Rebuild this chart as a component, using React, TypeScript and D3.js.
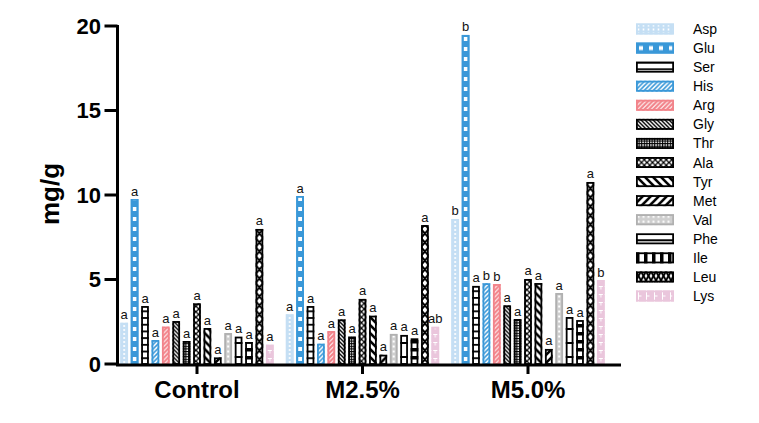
import React from "react";
import * as d3 from "d3";

const groups = ["Control", "M2.5%", "M5.0%"];
const acids = ["Asp", "Glu", "Ser", "His", "Arg", "Gly", "Thr", "Ala", "Tyr", "Met", "Val", "Phe", "Ile", "Leu", "Lys"];
const controlValues = [2.44, 9.76, 3.43, 1.42, 2.21, 2.54, 1.36, 3.59, 2.13, 0.39, 1.83, 1.62, 1.3, 7.99, 1.14];
const m25Values = [2.94, 9.94, 3.43, 1.2, 1.95, 2.64, 1.62, 3.85, 2.86, 0.55, 1.78, 1.72, 1.52, 8.22, 2.21];
const m50Values = [8.58, 19.47, 4.62, 4.78, 4.73, 3.47, 2.66, 5.03, 4.79, 0.89, 4.2, 2.78, 2.6, 10.77, 4.97];
const controlLetters = ["a", "a", "a", "a", "a", "a", "a", "a", "a", "a", "a", "a", "a", "a", "a"];
const m25Letters = ["a", "a", "a", "a", "a", "a", "a", "a", "a", "a", "a", "a", "a", "a", "ab"];
const m50Letters = ["b", "b", "a", "b", "b", "a", "a", "a", "a", "a", "a", "a", "a", "a", "b"];
const yTicks = [0, 5, 10, 15, 20];

const seriesValues = [controlValues, m25Values, m50Values];
const seriesLetters = [controlLetters, m25Letters, m50Letters];

const BLUE = "#3a98d8";
const LBLUE = "#c5dff4";
const SALMON = "#f2838a";
const PINK = "#eac6dc";
const GRAY = "#b0b0b0";
const FONT = "'Liberation Sans', Arial, sans-serif";

type Spec = {
  bg: string;
  stroke: string;
  tw: (w: number) => number;
  th: number;
  rot: boolean;
  draw: (w: number, h: number) => React.ReactNode;
};

const diag = (s: number, sw: number, color: string, dir: 1 | -1) =>
  dir === 1 ? (
    <path d={`M${-s / 2},${s / 2} L${s / 2},${-s / 2} M0,${s} L${s},0 M${s / 2},${s * 1.5} L${s * 1.5},${s / 2}`} stroke={color} strokeWidth={sw} fill="none" />
  ) : (
    <path d={`M${-s / 2},${s / 2} L${s / 2},${s * 1.5} M0,0 L${s},${s} M${s / 2},${-s / 2} L${s * 1.5},${s / 2}`} stroke={color} strokeWidth={sw} fill="none" />
  );

const specs: Record<string, Spec> = {
  Asp: { bg: LBLUE, stroke: LBLUE, tw: (w) => w, th: 4, rot: false, draw: (w) => <rect x={w / 2 - 0.8} y={1} width={1.6} height={2} fill="#fff" /> },
  Glu: { bg: BLUE, stroke: BLUE, tw: (w) => w, th: 10, rot: true, draw: (w) => <rect x={w / 2 - 2} y={3} width={4} height={4} fill="#fff" /> },
  Ser: { bg: "#fff", stroke: "#000", tw: (w) => w, th: 6.7, rot: false, draw: (w) => <rect x={0} y={0} width={w} height={1.8} fill="#000" /> },
  His: { bg: "#fff", stroke: BLUE, tw: () => 4.5, th: 4.5, rot: false, draw: () => diag(4.5, 1.6, BLUE, 1) },
  Arg: { bg: "#fff", stroke: SALMON, tw: () => 4.5, th: 4.5, rot: false, draw: () => diag(4.5, 2.2, SALMON, 1) },
  Gly: { bg: "#fff", stroke: "#000", tw: () => 4, th: 4, rot: false, draw: () => diag(4, 1.4, "#000", -1) },
  Thr: {
    bg: "#fff", stroke: "#000", tw: () => 2.6, th: 2.6, rot: false,
    draw: () => (<><rect x={0} y={0} width={2.6} height={1.1} fill="#000" /><rect x={0} y={0} width={1.1} height={2.6} fill="#000" /></>),
  },
  Ala: {
    bg: "#fff", stroke: "#000", tw: () => 5.5, th: 5.5, rot: false,
    draw: () => (<>{diag(5.5, 1.2, "#000", 1)}{diag(5.5, 1.2, "#000", -1)}</>),
  },
  Tyr: { bg: "#fff", stroke: "#000", tw: () => 8, th: 8, rot: false, draw: () => diag(8, 2.6, "#000", -1) },
  Met: { bg: "#fff", stroke: "#000", tw: () => 8, th: 8, rot: false, draw: () => diag(8, 2.6, "#000", 1) },
  Val: { bg: "#cfcfcf", stroke: GRAY, tw: (w) => w, th: 5, rot: false, draw: (w) => <rect x={w / 2 - 1} y={1.5} width={2} height={2} fill="#fff" /> },
  Phe: { bg: "#fff", stroke: "#000", tw: (w) => w, th: 14, rot: false, draw: (w) => <rect x={0} y={6} width={w} height={2} fill="#000" /> },
  Ile: { bg: "#fff", stroke: "#000", tw: (w) => w, th: 8, rot: true, draw: (w) => <rect x={0} y={0} width={w} height={3.5} fill="#000" /> },
  Leu: {
    bg: "#fff", stroke: "#000", tw: (w) => w, th: 9, rot: false,
    draw: (w) => <path d={`M0,0 L${w},9 M${w},0 L0,9`} stroke="#000" strokeWidth={1.9} fill="none" />,
  },
  Lys: {
    bg: PINK, stroke: PINK, tw: (w) => w, th: 8, rot: true,
    draw: (w) => (<><rect x={0} y={2} width={w} height={1} fill="#fff" /><rect x={w / 2 - 0.5} y={2} width={1} height={3.5} fill="#fff" /></>),
  },
};

export default function App() {
  const W = 759;
  const H = 423;
  const x0 = d3.scaleBand<string>().domain(groups).range([114.25, 610.75]).padding(0);
  const x1 = d3.scaleBand<string>().domain(acids).range([-78, 78]).paddingInner(0.26).paddingOuter(0.13);
  const y = d3.scaleLinear().domain([0, 20]).range([364, 26]);
  const bw = x1.bandwidth();
  const axisX = 117.5;
  const axisRight = 621;
  const sw = 1.8;

  const bars: React.ReactNode[] = [];
  const defs: React.ReactNode[] = [];
  const labels: React.ReactNode[] = [];

  groups.forEach((g, gi) => {
    const cx = (x0(g) as number) + x0.bandwidth() / 2;
    acids.forEach((a, ai) => {
      const v = seriesValues[gi][ai];
      const spec = specs[a];
      const bx = cx + (x1(a) as number);
      const by = y(v);
      const base = y(0);
      const id = `p-${gi}-${ai}`;
      const tw = spec.tw(bw);
      defs.push(
        <pattern key={id} id={id} patternUnits="userSpaceOnUse" x={bx} y={base} width={tw} height={spec.th}>
          <rect x={0} y={0} width={tw} height={spec.th} fill={spec.bg} />
          {spec.draw(bw, spec.th)}
        </pattern>
      );
      bars.push(
        <g key={id}>
          <rect x={bx} y={by} width={bw} height={base - by} fill={`url(#${id})`} />
          <rect x={bx + sw / 2} y={by + sw / 2} width={bw - sw} height={Math.max(0, base - by - sw / 2)} fill="none" stroke={spec.stroke} strokeWidth={sw} />
        </g>
      );
      labels.push(
        <text key={`t-${id}`} x={bx + bw / 2} y={by - 3.5} textAnchor="middle" fontSize={13} fontFamily={FONT} fill="#111">
          {seriesLetters[gi][ai]}
        </text>
      );
    });
  });

  const legendY = d3.scaleLinear().domain([0, acids.length - 1]).range([29, 296]);
  const swX = 636;
  const swW = 38;
  const swH = 11;
  const legend = acids.map((a, i) => {
    const spec = specs[a];
    const cy = legendY(i);
    const sy = cy - swH / 2;
    const id = `lg-${i}`;
    const lw = spec.rot ? swH : 5;
    const tw = spec.tw(lw);
    const transform = spec.rot ? `translate(${swX},${sy + swH}) rotate(-90)` : `translate(${swX},${sy})`;
    return (
      <g key={id}>
        <defs>
          <pattern id={id} patternUnits="userSpaceOnUse" x={0} y={0} width={tw} height={spec.th} patternTransform={transform}>
            <rect x={0} y={0} width={tw} height={spec.th} fill={spec.bg} />
            {spec.draw(lw, spec.th)}
          </pattern>
        </defs>
        <rect x={swX} y={sy} width={swW} height={swH} fill={`url(#${id})`} />
        <rect x={swX + sw / 2} y={sy + sw / 2} width={swW - sw} height={swH - sw} fill="none" stroke={spec.stroke} strokeWidth={sw} />
        <text x={693} y={cy} dominantBaseline="central" fontSize={14} fontFamily={FONT} fill="#000">
          {a}
        </text>
      </g>
    );
  });

  return (
    <svg width={W} height={H} style={{ position: "absolute", left: 0, top: 0, background: "#fff" }}>
      <defs>{defs}</defs>
      {bars}
      {labels}
      <line x1={axisX} x2={axisX} y1={y(20) - 1} y2={y(0) + 1.5} stroke="#000" strokeWidth={3} />
      {yTicks.map((t) => (
        <g key={`yt-${t}`}>
          <line x1={axisX - 13} x2={axisX} y1={y(t)} y2={y(t)} stroke="#000" strokeWidth={3} />
          <text x={101} y={y(t)} textAnchor="end" dominantBaseline="central" fontSize={22} fontWeight="bold" fontFamily={FONT} fill="#000">
            {t}
          </text>
        </g>
      ))}
      <text transform={`translate(59,194) rotate(-90)`} textAnchor="middle" fontSize={26} fontWeight="bold" fontFamily={FONT} fill="#000">
        mg/g
      </text>
      <line x1={axisX - 1.5} x2={axisRight} y1={y(0) + 1} y2={y(0) + 1} stroke="#000" strokeWidth={3} />
      {groups.map((g) => {
        const cx = (x0(g) as number) + x0.bandwidth() / 2;
        return (
          <g key={`xt-${g}`}>
            <line x1={cx} x2={cx} y1={y(0)} y2={y(0) + 10} stroke="#000" strokeWidth={3} />
            <text x={cx} y={398} textAnchor="middle" fontSize={24} fontWeight="bold" fontFamily={FONT} fill="#000">
              {g}
            </text>
          </g>
        );
      })}
      {legend}
    </svg>
  );
}
